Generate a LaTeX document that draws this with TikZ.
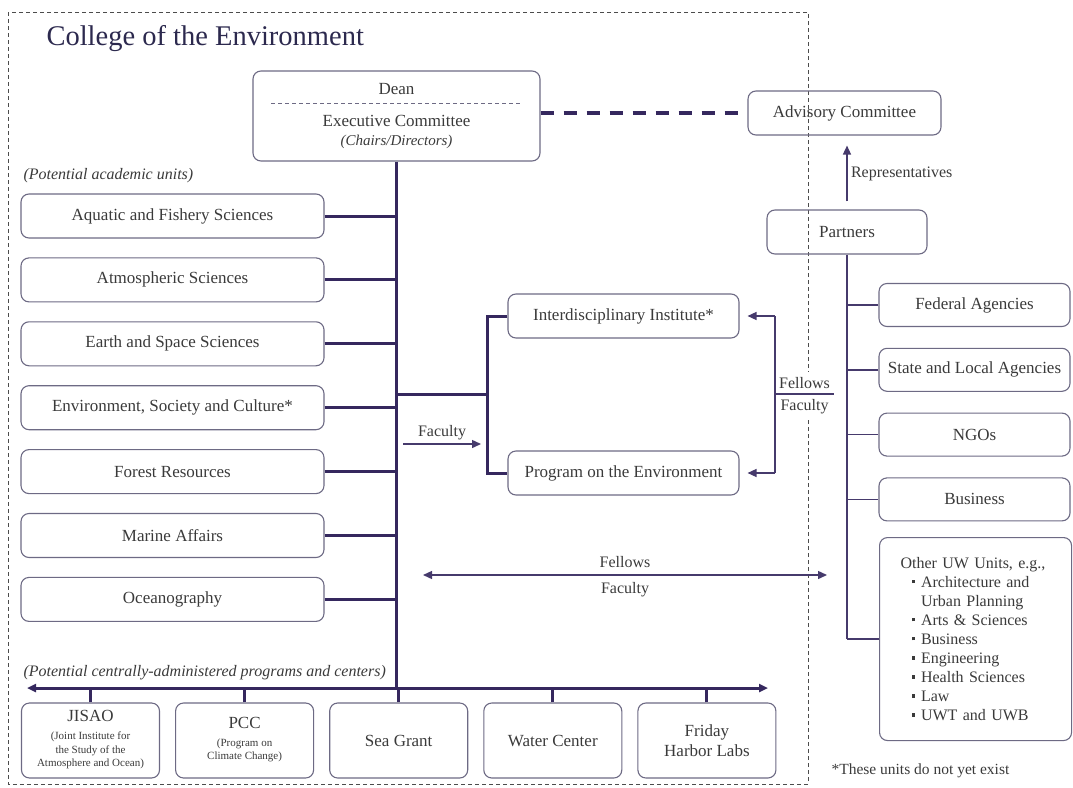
\documentclass[tikz,border=0pt]{standalone}
\usepackage{fontspec}
\setmainfont{Liberation Serif}
\usetikzlibrary{positioning,arrows.meta}
\definecolor{trunkc}{HTML}{35285E}
\definecolor{connc}{HTML}{463A6C}
\definecolor{boxc}{HTML}{6D6A84}
\definecolor{txtc}{HTML}{3A3A3A}
\definecolor{titlec}{HTML}{2C294E}
\tikzstyle{unitbox}=[draw=boxc, line width=1.1pt, rounded corners=8pt, minimum width=303pt, minimum height=44pt, inner sep=2pt, text=txtc, font=\fontsize{17}{20}\selectfont]
\tikzstyle{midbox}=[unitbox, minimum width=231pt]
\tikzstyle{partbox}=[unitbox, minimum width=191pt, minimum height=43pt]
\tikzstyle{ctrbox}=[unitbox, minimum width=138pt, minimum height=75pt, align=center]
\tikzstyle{lbl}=[text=txtc, font=\fontsize{16}{19}\selectfont]
\tikzstyle{ital}=[text=txtc, font=\fontsize{16}{19}\selectfont\itshape, anchor=west]
\tikzstyle{trunk}=[draw=trunkc, line width=3pt]
\tikzstyle{conn}=[draw=connc, line width=1.4pt]
\newcommand{\itm}{\hspace*{11pt}\rule[4pt]{3.5pt}{3.5pt}\hspace*{6pt}}
\newcommand{\itmc}{\hspace*{20.5pt}}
\newcommand{\smalllines}[1]{{\fontsize{11}{13.5}\selectfont\begin{tabular}[t]{@{}c@{}}#1\end{tabular}}}

\begin{document}
\begin{tikzpicture}[x=1pt,y=-1pt,>={Triangle[length=9pt,width=8pt]}]
\useasboundingbox (0,0) rectangle (1073,787);
% college border
\draw[draw=black!70, line width=0.8pt, dash pattern=on 4pt off 3pt] (8,12) rectangle (808,784);
\node[anchor=base west, text=titlec, font=\fontsize{28.5}{34}\selectfont] (title) at (43,45) {College of the Environment};

% dean
\node[unitbox, minimum width=287pt, minimum height=90pt] (dean) at (396.5,116) {};
\node[lbl, font=\fontsize{17}{20}\selectfont] (dn) at (396.5,89) {Dean};
\node[lbl, font=\fontsize{17}{20}\selectfont] (exec) at (396.5,121) {Executive Committee};
\node[lbl, font=\fontsize{15}{18}\selectfont\itshape] (chairs) at (396.5,142) {(Chairs/Directors)};
\draw[boxc, line width=0.8pt, dash pattern=on 4pt off 3pt] (271,103) -- (521,103);

% advisory and partners
\node[unitbox, minimum width=193pt] (adv) at (844.5,113) {Advisory Committee};
\node[unitbox, minimum width=160pt] (partners) at (847,232) {Partners};
\draw[trunk, line width=4pt, dash pattern=on 13pt off 10pt] (adv.west -| dean.east) -- (adv.west);
\draw[conn,->] ([yshift=8pt]partners.north) -- node[right, lbl] {Representatives} ([yshift=-10pt]adv.south -| partners.north);

% academic units
\node[ital] (acad) at (20,176) {(Potential academic units)};
\node[unitbox] (afs) at (172.5,216) {Aquatic and Fishery Sciences};
\node[unitbox, below=18.8pt of afs] (atm) {Atmospheric Sciences};
\node[unitbox, below=18.8pt of atm] (ess) {Earth and Space Sciences};
\node[unitbox, below=18.8pt of ess] (esc) {Environment, Society and Culture*};
\node[unitbox, below=18.8pt of esc] (fr) {Forest Resources};
\node[unitbox, below=18.8pt of fr] (ma) {Marine Affairs};
\node[unitbox, below=18.8pt of ma] (oce) {Oceanography};
\foreach \u in {afs,atm,ess,esc,fr,ma,oce}
  \draw[trunk] (\u.east) -- (\u.east -| dean.south);

% centrally administered
\coordinate (busl) at (27,688);
\coordinate (busr) at (768,688);
\draw[trunk] (dean.south) -- (dean.south |- busl);
\draw[trunk,<->] (busl) -- (busr);
\node[ital] (cent) at (20,673) {(Potential centrally-administered programs and centers)};
\node[ctrbox] (jisao) at (90.5,740.5) {JISAO\\[-2pt]\smalllines{(Joint Institute for\\the Study of the\\Atmosphere and Ocean)}};
\node[ctrbox, right=15pt of jisao] (pcc) {PCC\\[-2pt]\smalllines{(Program on\\Climate Change)}};
\node[ctrbox, right=15pt of pcc] (sea) {Sea Grant};
\node[ctrbox, right=15pt of sea] (water) {Water Center};
\node[ctrbox, right=15pt of water] (fhl) {Friday\\Harbor Labs};
\foreach \u in {jisao,pcc,sea,water,fhl}
  \draw[trunk] (\u.north) -- (\u.north |- busl);

% institute and program
\node[midbox] (inst) at (623.5,316) {Interdisciplinary Institute*};
\node[midbox] (poe) at (623.5,473) {Program on the Environment};
\coordinate (bx) at (487,394);
\draw[trunk] (dean.south |- bx) -- (bx);
\draw[trunk] (inst.west) -| (bx) |- (poe.west);
\coordinate (fa) at (403,444);
\coordinate (fb) at (481,444);
\draw[conn,->] (fa) -- node[above, lbl] {Faculty} (fb);

\coordinate (fx) at (775,394);
\coordinate (fy) at (834,394);
\draw[conn,->] (inst.east -| fx) -- ([xshift=8pt]inst.east);
\draw[conn,->] (poe.east -| fx) -- ([xshift=8pt]poe.east);
\draw[conn] (inst.east -| fx) -- (poe.east -| fx);
\draw[conn] (fx) -- node[above, lbl, fill=white, inner ysep=5pt] {Fellows} node[below, lbl, fill=white, inner ysep=5pt] {Faculty} (fy);

\coordinate (la) at (423,575);
\coordinate (lb) at (827,575);
\draw[conn,<->] (la) -- node[above=3pt, lbl] {Fellows} node[below=3pt, lbl] {Faculty} (lb);

% partners
\node[partbox] (fed) at (974.5,305) {Federal Agencies};
\node[partbox, below=20.7pt of fed] (sla) {State and Local Agencies};
\node[partbox, below=20.7pt of sla] (ngo) {NGOs};
\node[partbox, below=20.7pt of ngo] (biz) {Business};
\node[partbox, minimum height=203pt, anchor=north west, align=left, text width=150pt, inner xsep=21pt, font=\fontsize{16}{19.1}\selectfont] (other) at (879,537) {Other UW Units, e.g.,\\ \itm Architecture and\\ \itmc Urban Planning\\ \itm Arts \& Sciences\\ \itm Business\\ \itm Engineering\\ \itm Health Sciences\\ \itm Law\\ \itm UWT and UWB};
\draw[conn] (partners.south) -- (other.west -| partners.south);
\foreach \u in {fed,sla,ngo,biz,other}
  \draw[conn] (\u.west) -- (\u.west -| partners.south);

\node[lbl, anchor=west, font=\fontsize{15.5}{18}\selectfont] (note) at (828,771) {*These units do not yet exist};
\end{tikzpicture}
\end{document}
